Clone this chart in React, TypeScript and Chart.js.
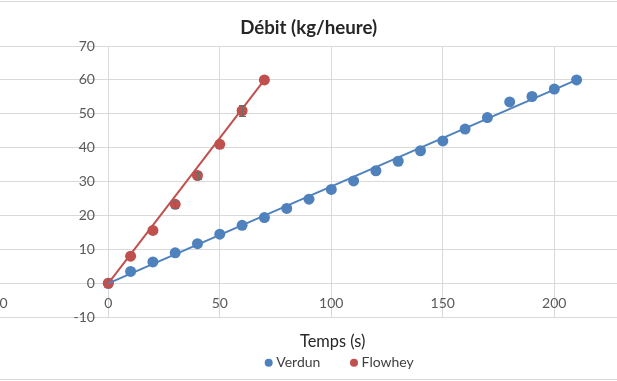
import React, { useEffect, useRef } from "react";
import { Chart, registerables } from "chart.js";

Chart.register(...registerables);

// ---- data ----
const chartTitle = "Débit (kg/heure)";
const xAxisTitle = "Temps (s)";
const seriesNames = ["Verdun", "Flowhey"];

const verdunX = [0, 10, 20, 30, 40, 50, 60, 70, 80, 90, 100, 110, 120, 130, 140, 150, 160, 170, 180, 190, 200, 210];
const verdunY = [0, 3.5, 6.3, 9.0, 11.7, 14.5, 17.1, 19.4, 22.1, 24.8, 27.7, 30.2, 33.2, 36.0, 39.1, 42.0, 45.5, 48.9, 53.5, 55.1, 57.3, 60.0];

const flowheyX = [0, 10, 20, 30, 40, 50, 60, 70];
const flowheyY = [0, 8.0, 15.6, 23.3, 31.8, 41.0, 50.9, 60.0];
const flowheyErr = [0, 0, 0, 1.1, 1.0, 0, 1.6, 0];

// trend lines (end points)
const verdunTrendX = [0, 210];
const verdunTrendY = [0, 60];
const flowheyTrendX = [0, 70];
const flowheyTrendY = [0, 60];

const xTicks = [-50, 0, 50, 100, 150, 200, 250];
const yTicks = [-10, 0, 10, 20, 30, 40, 50, 60, 70];

// ---- styles ----
const BLUE = "#4F81BD";
const RED = "#C0504D";
const GRID = "#D9D9D9";
const TICK = "#595959";
const FONT = "Lato, 'Open Sans', sans-serif";

const CANVAS_LEFT = -20;
const CANVAS_W = 720;
const CANVAS_H = 381;

const toPts = (xs: number[], ys: number[]) => xs.map((x, i) => ({ x, y: ys[i] }));

const decorPlugin = {
  id: "decor",
  beforeDraw(chart: any) {
    const ctx = chart.ctx;
    ctx.save();
    ctx.fillStyle = "#ffffff";
    ctx.fillRect(0, 0, chart.width, chart.height);
    ctx.strokeStyle = GRID;
    ctx.lineWidth = 1;
    ctx.beginPath();
    ctx.moveTo(0, 1.5);
    ctx.lineTo(chart.width, 1.5);
    ctx.moveTo(0, 379.5);
    ctx.lineTo(chart.width, 379.5);
    ctx.stroke();
    ctx.restore();
  },
  afterDraw(chart: any) {
    const ctx = chart.ctx;
    const off = -CANVAS_LEFT;
    ctx.save();
    // title
    ctx.fillStyle = "#262626";
    ctx.font = `bold 18.7px ${FONT}`;
    ctx.textAlign = "center";
    ctx.textBaseline = "alphabetic";
    ctx.fillText(chartTitle, 308.7 + off, 33.5);
    // axis title
    ctx.fillStyle = "#262626";
    ctx.font = `16.4px ${FONT}`;
    ctx.fillText(xAxisTitle, 332.7 + off, 346.7);
    // legend
    const items = [
      { name: seriesNames[0], color: BLUE, mx: 268.7 },
      { name: seriesNames[1], color: RED, mx: 354 },
    ];
    ctx.font = `14px ${FONT}`;
    ctx.textAlign = "left";
    for (const it of items) {
      ctx.fillStyle = it.color;
      ctx.beginPath();
      ctx.arc(it.mx + off, 362.7, 4, 0, Math.PI * 2);
      ctx.fill();
      ctx.fillStyle = "#404040";
      ctx.fillText(it.name, it.mx + 7.6 + off, 367.3);
    }
    ctx.restore();
  },
};

const errorBarPlugin = {
  id: "errorBars",
  afterDatasetsDraw(chart: any) {
    const ctx = chart.ctx;
    const xs = chart.scales.x;
    const ys = chart.scales.y;
    ctx.save();
    ctx.strokeStyle = "#6b6b6b";
    ctx.lineWidth = 1;
    flowheyX.forEach((xv, i) => {
      const e = flowheyErr[i];
      if (!e) return;
      const px = Math.round(xs.getPixelForValue(xv)) + 0.5;
      const y1 = ys.getPixelForValue(flowheyY[i] + e);
      const y2 = ys.getPixelForValue(flowheyY[i] - e);
      ctx.beginPath();
      ctx.moveTo(px, y1);
      ctx.lineTo(px, y2);
      ctx.moveTo(px - 3.5, Math.round(y1) + 0.5);
      ctx.lineTo(px + 3.5, Math.round(y1) + 0.5);
      ctx.moveTo(px - 3.5, Math.round(y2) + 0.5);
      ctx.lineTo(px + 3.5, Math.round(y2) + 0.5);
      ctx.stroke();
    });
    ctx.restore();
  },
};

const zeroPad = (s: any) => {
  s.paddingLeft = 0;
  s.paddingRight = 0;
  s.paddingTop = 0;
  s.paddingBottom = 0;
};

export default function App() {
  const ref = useRef<HTMLCanvasElement | null>(null);

  useEffect(() => {
    if (!ref.current) return;
    const chart = new Chart(ref.current, {
      type: "scatter",
      data: {
        datasets: [
          {
            type: "line",
            label: "Verdun trend",
            data: toPts(verdunTrendX, verdunTrendY),
            borderColor: BLUE,
            borderWidth: 2,
            pointRadius: 0,
            fill: false,
            order: 0,
          } as any,
          {
            type: "line",
            label: "Flowhey trend",
            data: toPts(flowheyTrendX, flowheyTrendY),
            borderColor: RED,
            borderWidth: 2,
            pointRadius: 0,
            fill: false,
            order: 0,
          } as any,
          {
            label: seriesNames[1],
            data: toPts(flowheyX, flowheyY),
            backgroundColor: RED,
            borderColor: RED,
            pointRadius: 5.5,
            pointBorderWidth: 0,
            order: 1,
          },
          {
            label: seriesNames[0],
            data: toPts(verdunX, verdunY),
            backgroundColor: BLUE,
            borderColor: BLUE,
            pointRadius: 5.5,
            pointBorderWidth: 0,
            order: 2,
          },
        ],
      },
      options: {
        responsive: false,
        animation: false,
        devicePixelRatio: 1,
        layout: {
          padding: { left: 16.8, right: CANVAS_W - 685.8, top: 46, bottom: CANVAS_H - 317.2 },
        },
        plugins: {
          legend: { display: false },
          title: { display: false },
          tooltip: { enabled: false },
        },
        scales: {
          x: {
            type: "linear",
            min: -50,
            max: 250,
            position: { y: 0 } as any,
            afterFit: (s: any) => { s.height = 0; zeroPad(s); },
            afterBuildTicks: (s: any) => { s.ticks = xTicks.map((v) => ({ value: v })); },
            grid: { color: GRID, drawTicks: false, lineWidth: 1 },
            border: { color: GRID, width: 1 },
            ticks: { color: TICK, font: { family: FONT, size: 14 }, padding: 11.5, maxRotation: 0 },
          },
          y: {
            type: "linear",
            min: -10,
            max: 70,
            position: { x: -6.0 } as any,
            afterFit: (s: any) => { s.width = 0; zeroPad(s); },
            afterBuildTicks: (s: any) => { s.ticks = yTicks.map((v) => ({ value: v })); },
            grid: { color: GRID, drawTicks: false, lineWidth: 1 },
            border: { display: false },
            ticks: { color: TICK, font: { family: FONT, size: 14 }, padding: 0 },
          },
        },
      },
      plugins: [decorPlugin, errorBarPlugin],
    });
    return () => chart.destroy();
  }, []);

  return (
    <div style={{ position: "fixed", left: 0, top: 0, width: 617, height: 381, overflow: "hidden", background: "#fff" }}>
      <canvas
        ref={ref}
        width={CANVAS_W}
        height={CANVAS_H}
        style={{ position: "absolute", left: CANVAS_LEFT, top: 0, width: CANVAS_W, height: CANVAS_H }}
      />
    </div>
  );
}
